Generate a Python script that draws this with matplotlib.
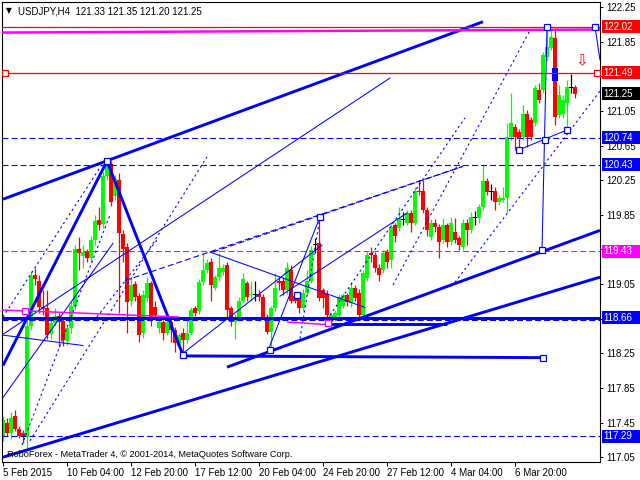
import matplotlib
matplotlib.use('Agg')
import matplotlib.pyplot as plt
from matplotlib.patches import Rectangle

plt.rcParams['font.family'] = ['Liberation Sans', 'DejaVu Sans']
plt.rcParams['lines.scale_dashes'] = False

# ---------------- data (USDJPY H4 candles) ----------------
opens = [117.28, 117.45, 117.33, 117.53, 117.38, 117.33, 117.28, 118.57, 119.16, 119.09,
         118.79, 118.77, 118.47, 118.60, 118.68, 118.62, 118.39, 118.54, 118.80, 119.45,
         119.37, 119.42, 119.35, 119.56, 119.79, 119.74, 120.30, 120.44, 120.07, 120.25,
         119.63, 119.48, 118.86, 119.05, 118.91, 118.48, 118.89, 119.06, 118.78, 118.54,
         118.61, 118.49, 118.61, 118.52, 118.34, 118.49, 118.40, 118.49, 118.77, 118.74,
         119.07, 119.21, 119.30, 119.01, 119.13, 119.19, 119.27, 118.77, 118.61, 118.65,
         118.86, 119.06, 118.92, 118.92, 118.94, 118.90, 118.67, 118.50, 118.77, 119.09,
         119.09, 118.98, 119.21, 118.91, 118.90, 118.77, 118.95, 119.09, 119.50, 119.52,
         118.98, 118.94, 118.61, 118.65, 118.69, 118.80, 118.92, 118.83, 119.00, 118.95,
         118.69, 119.12, 119.41, 119.38, 119.24, 119.21, 119.42, 119.33, 119.73, 119.70,
         119.79, 119.76, 119.87, 119.76, 120.13, 120.13, 119.90, 119.59, 119.76, 119.71,
         119.56, 119.73, 119.53, 119.65, 119.58, 119.48, 119.76, 119.67, 119.81, 119.81,
         119.94, 120.24, 120.11, 120.13, 120.00, 120.02, 120.04, 120.75, 120.86, 120.81,
         120.75, 121.02, 120.94, 120.91, 121.29, 121.29, 121.67, 121.78, 121.89, 121.00,
         121.02, 121.14, 121.31, 121.33]
highs = [117.53, 117.50, 117.57, 117.59, 117.41, 117.36, 118.63, 119.20, 119.23, 119.15,
         118.98, 118.98, 118.63, 118.77, 118.72, 118.65, 118.57, 118.86, 119.50, 119.59,
         119.50, 119.46, 119.60, 119.85, 119.94, 120.34, 120.50, 120.47, 120.31, 120.33,
         119.67, 119.52, 119.12, 119.09, 118.95, 118.98, 119.13, 119.09, 118.86, 118.65,
         118.64, 118.65, 118.65, 118.55, 118.49, 118.54, 118.63, 118.78, 118.80, 119.11,
         119.41, 119.34, 119.35, 119.16, 119.41, 119.28, 119.30, 118.80, 118.70, 118.90,
         119.18, 119.09, 119.09, 119.09, 118.98, 118.93, 118.70, 118.80, 119.18, 119.13,
         119.13, 119.30, 119.27, 118.95, 118.93, 118.99, 119.21, 119.49, 119.58, 119.82,
         119.01, 118.98, 118.72, 118.75, 118.93, 118.95, 118.95, 119.07, 119.04, 118.99,
         119.21, 119.43, 119.48, 119.42, 119.28, 119.44, 119.45, 119.74, 119.76, 119.94,
         119.88, 119.90, 119.90, 120.17, 120.25, 120.25, 119.94, 119.80, 119.80, 119.74,
         119.81, 119.76, 119.82, 119.81, 119.61, 119.80, 119.80, 119.88, 119.89, 119.97,
         120.42, 120.27, 120.20, 120.17, 120.08, 120.17, 120.91, 121.26, 120.90, 120.84,
         121.12, 121.06, 120.98, 121.35, 121.37, 121.73, 122.02, 121.98, 122.01, 121.35,
         121.23, 121.41, 121.48, 121.35]
lows = [117.24, 117.29, 117.26, 117.35, 117.27, 117.21, 117.16, 118.52, 119.04, 118.72,
        118.69, 118.42, 118.42, 118.56, 118.32, 118.34, 118.35, 118.49, 118.75, 119.21,
        119.23, 119.30, 119.30, 119.50, 119.68, 119.70, 120.25, 119.95, 120.02, 118.71,
        119.30, 118.48, 118.80, 118.86, 118.38, 118.43, 118.84, 118.57, 118.63, 118.48,
        118.40, 118.46, 118.38, 118.26, 118.31, 118.23, 118.37, 118.46, 118.68, 118.70,
        119.04, 119.18, 118.86, 118.98, 119.09, 119.15, 118.65, 118.56, 118.42, 118.62,
        118.83, 118.86, 118.86, 118.86, 118.86, 118.65, 118.47, 118.31, 118.74, 118.98,
        118.92, 118.94, 118.83, 118.83, 118.72, 118.74, 118.92, 119.06, 119.41, 118.86,
        118.77, 118.63, 118.57, 118.62, 118.65, 118.77, 118.80, 118.79, 118.85, 118.65,
        118.65, 119.08, 119.30, 119.19, 119.09, 119.18, 119.24, 119.24, 119.53, 119.66,
        119.73, 119.73, 119.65, 119.73, 120.08, 119.87, 119.61, 119.56, 119.65, 119.35,
        119.52, 119.48, 119.50, 119.52, 119.44, 119.44, 119.50, 119.64, 119.73, 119.75,
        119.90, 120.08, 120.02, 119.90, 119.96, 120.00, 119.88, 120.71, 120.60, 120.60,
        120.71, 120.63, 120.71, 120.87, 121.14, 121.26, 121.64, 121.75, 120.89, 120.97,
        120.97, 120.83, 121.26, 121.20]
closes = [117.48, 117.33, 117.50, 117.38, 117.30, 117.28, 118.57, 119.14, 119.11, 118.78,
          118.76, 118.46, 118.60, 118.68, 118.61, 118.40, 118.54, 118.80, 119.45, 119.41,
          119.42, 119.35, 119.56, 119.78, 119.73, 120.30, 120.42, 120.00, 120.26, 119.64,
          119.46, 118.84, 119.04, 118.90, 118.46, 118.92, 119.06, 118.67, 118.69, 118.61,
          118.49, 118.61, 118.52, 118.37, 118.46, 118.40, 118.49, 118.75, 118.72, 119.07,
          119.21, 119.29, 119.04, 119.13, 119.24, 119.24, 118.75, 118.61, 118.65, 118.86,
          119.11, 118.90, 118.94, 118.92, 118.90, 118.67, 118.50, 118.77, 119.00, 119.06,
          118.98, 119.23, 118.86, 118.86, 118.77, 118.95, 119.09, 119.44, 119.50, 118.89,
          118.89, 118.69, 118.69, 118.71, 118.90, 118.92, 118.84, 119.01, 118.89, 118.69,
          119.18, 119.38, 119.38, 119.24, 119.15, 119.41, 119.30, 119.71, 119.61, 119.81,
          119.79, 119.87, 119.75, 120.13, 120.11, 119.90, 119.67, 119.76, 119.71, 119.54,
          119.73, 119.53, 119.75, 119.56, 119.50, 119.76, 119.67, 119.82, 119.81, 119.94,
          120.24, 120.11, 120.11, 120.00, 120.04, 120.04, 120.75, 120.91, 120.75, 120.74,
          121.02, 120.75, 120.75, 121.31, 121.18, 121.70, 121.79, 121.90, 120.98, 121.23,
          121.18, 121.33, 121.31, 121.25]

x_tick_bars = [0, 16, 32, 48, 64, 80, 96, 112, 128]
x_tick_labels = ['5 Feb 2015', '10 Feb 04:00', '12 Feb 20:00', '17 Feb 12:00', '20 Feb 04:00',
                 '24 Feb 20:00', '27 Feb 12:00', '4 Mar 04:00', '6 Mar 20:00']
y_ticks = [122.25, 121.85, 121.45, 121.05, 120.65, 120.25, 119.85, 119.45,
           119.05, 118.65, 118.25, 117.85, 117.45, 117.05]
# scale labels that sit under a price tag are hidden, as in the terminal
y_hidden = [121.45, 119.45, 118.65]

# horizontal levels
red_levels = [122.02, 121.49]
blue_dashed_levels = [120.74, 120.43, 118.63, 117.29]
magenta_dashed_levels = [119.43]
blue_thick_levels = [118.66]

# price tags on the right scale
tag_prices = [122.02, 121.49, 121.25, 120.74, 120.43, 119.43, 118.66, 117.29]
tag_colors = ['#FF0000', '#FF0000', '#000000', '#0000FF', '#0000FF', '#FF00FF', '#0000FF', '#0000FF']

# drawn objects: ((bar, price), (bar, price))
thick_lines = [((0, 120.03), (120, 122.08)),
               ((0, 118.11), (26, 120.47)),
               ((26, 120.47), (45, 118.23)),
               ((45, 118.22), (135, 118.20)),
               ((56, 118.09), (149.25, 119.67)),
               ((0, 117.05), (149.25, 119.13)),
               ((81.5, 118.585), (111, 118.585))]
thin_lines = [((0, 118.46), (20, 118.34)),
              ((0, 118.47), (96.75, 121.43)),
              ((0, 117.74), (27.5, 119.52)),
              ((45, 118.25), (79.75, 119.50)),
              ((51.75, 119.42), (90.5, 118.78)),
              ((66.25, 118.28), (79.25, 119.83)),
              ((69.25, 118.91), (101, 119.87)),
              ((129, 120.60), (141, 120.83)),
              ((136, 122.02), (134.75, 119.44)),
              ((148, 122.02), (149.25, 121.64))]
dotted_lines = [((0, 118.67), (25, 120.45)),
                ((6.75, 117.24), (51, 120.52)),
                ((4.75, 117.19), (26.75, 119.85)),
                ((23.5, 118.67), (38.5, 119.56)),
                ((74.25, 118.42), (79.25, 119.82)),
                ((81.75, 118.69), (115.5, 120.97)),
                ((97.5, 119.04), (131.75, 121.98)),
                ((113, 119.07), (149.25, 121.28))]
dashed_lines = [((30.5, 119.09), (115, 120.41)),
                ((52.5, 119.42), (115, 120.41))]
magenta_lines = [((-0.25, 121.955), (149.25, 121.99), 1.8),
                 ((0, 118.75), (43.75, 118.67), 1.1),
                 ((71.25, 118.61), (81.75, 118.58), 1.1)]
blue_marks = [(26, 120.47), (45, 118.23), (66.75, 118.29), (73.5, 118.92), (79.25, 119.83),
              (135, 118.20), (129, 120.60), (135.5, 120.71), (141, 120.83), (134.75, 119.44),
              (136, 122.02), (148, 122.02)]
magenta_marks = [(5.5, 118.74), (81.25, 118.60)]
red_marks = [(0.5, 121.49), (148.5, 121.49)]

# ---------------- figure ----------------
fig = plt.figure(figsize=(6.4, 4.8), dpi=100)
fig.patch.set_facecolor('white')
ax = fig.add_axes([2 / 640, 18.3 / 480, 598 / 640, 459.7 / 480])
ax.set_xlim(-0.25, 149.25)
ax.set_ylim(116.998, 122.308)

BLUE, RED, MAG, LIME = '#0000FF', '#FF0000', '#FF00FF', '#00FF00'

# candles
for i, (o, h, l, c) in enumerate(zip(opens, highs, lows, closes)):
    if c > o:
        col = LIME
    elif c < o:
        col = RED
    else:
        col = 'black'
    ax.vlines(i, l, h, color=col, lw=0.9, zorder=2)
    ax.bar(i, max(abs(c - o), 0.012), bottom=min(o, c), width=0.8, color=col,
           linewidth=0, zorder=2, antialiased=False)

# levels
for p in red_levels:
    ax.axhline(p, color=RED, lw=0.9, zorder=4)
for p in blue_dashed_levels:
    ax.axhline(p, color=BLUE, lw=0.8, ls=(0, (4.3, 2.2)), zorder=3)
for p in magenta_dashed_levels:
    ax.axhline(p, color=MAG, lw=0.8, ls=(0, (4.3, 2.2)), zorder=3)
for p in blue_thick_levels:
    ax.axhline(p, color=BLUE, lw=2.2, zorder=3)

for (a, b) in thick_lines:
    ax.plot([a[0], b[0]], [a[1], b[1]], color=BLUE, lw=2.1, zorder=3, solid_capstyle='butt')
for (a, b) in thin_lines:
    ax.plot([a[0], b[0]], [a[1], b[1]], color=BLUE, lw=0.75, zorder=3)
for (a, b) in dotted_lines:
    ax.plot([a[0], b[0]], [a[1], b[1]], color=BLUE, lw=0.8, ls=(0, (1.6, 2.2)), zorder=3)
for (a, b) in dashed_lines:
    ax.plot([a[0], b[0]], [a[1], b[1]], color=BLUE, lw=0.8, ls=(0, (4.3, 2.2)), zorder=3)
for (a, b, w) in magenta_lines:
    ax.plot([a[0], b[0]], [a[1], b[1]], color=MAG, lw=w, zorder=3)

# blue object on the 121.49 level
ax.add_patch(Rectangle((137.3, 121.40), 1.4, 0.15, facecolor=BLUE, edgecolor=BLUE, lw=0, zorder=3))

for (bx, by) in blue_marks:
    ax.plot(bx, by, marker='s', ms=4, mfc='white', mec=BLUE, mew=0.9, zorder=5)
for (bx, by) in magenta_marks:
    ax.plot(bx, by, marker='s', ms=4, mfc='white', mec=MAG, mew=0.9, zorder=5)
for (bx, by) in red_marks:
    ax.plot(bx, by, marker='s', ms=4, mfc='white', mec=RED, mew=0.9, zorder=5)

ax.text(144.75, 121.63, '\u21e9', color=RED, fontsize=11, ha='center', va='center',
        family='DejaVu Sans', zorder=5)

# axes styling
for s in ax.spines.values():
    s.set_color('black')
    s.set_linewidth(0.8)
ax.yaxis.tick_right()
ax.set_yticks(y_ticks)
ax.set_yticklabels(['' if v in y_hidden else '%.2f' % v for v in y_ticks])
ax.tick_params(axis='y', length=2.5, width=0.7, pad=1.8, labelsize=7, colors='black')
ax.set_xticks(x_tick_bars)
ax.set_xticklabels(x_tick_labels, ha='left')
ax.tick_params(axis='x', length=3, width=0.7, pad=1.5, labelsize=7, colors='black')

# price tags
ytrans = ax.get_yaxis_transform()
half_h = 6.5 * (122.308 - 116.998) / 459.7
for p, col in zip(tag_prices, tag_colors):
    ax.add_patch(Rectangle((1.0035, p - half_h), 0.0635, 2 * half_h, transform=ytrans,
                           facecolor=col, edgecolor=col, lw=0, clip_on=False, zorder=6))
    ax.text(1.0058, p, '%.2f' % p, transform=ytrans, color='white', fontsize=7,
            ha='left', va='center', clip_on=False, zorder=7)

# header and watermark
fig.text(8.5 / 640, 1 - 11 / 480, '\u25bc', fontsize=5.5, family='DejaVu Sans',
         ha='center', va='center', color='black')
fig.text(18 / 640, 1 - 11 / 480, 'USDJPY,H4  121.33 121.35 121.20 121.25', fontsize=7,
         ha='left', va='center', color='black')
ax.text(0.008, 0.016, 'RoboForex - MetaTrader 4, \u00a9 2001-2014, MetaQuotes Software Corp.',
        transform=ax.transAxes, fontsize=6.6, ha='left', va='center', color='black', zorder=6)

fig.savefig('out.png', dpi=100)
